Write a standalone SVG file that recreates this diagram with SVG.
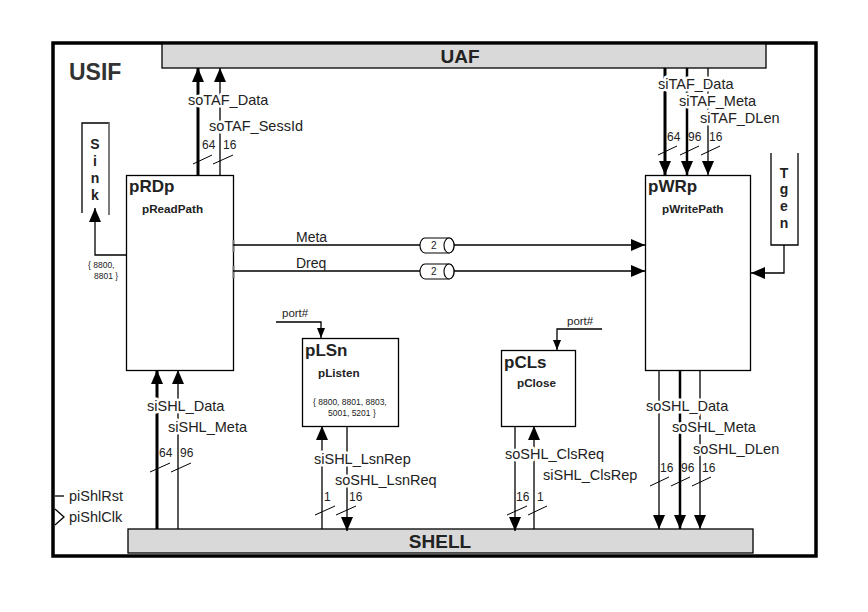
<svg xmlns="http://www.w3.org/2000/svg" width="868" height="612" viewBox="0 0 868 612">
<defs>
<marker id="ah" markerUnits="userSpaceOnUse" markerWidth="14" markerHeight="12" refX="14" refY="6" orient="auto"><path d="M0,0 L14,6 L0,12 Z" fill="#000"/></marker>
<marker id="ahs" markerUnits="userSpaceOnUse" markerWidth="10" markerHeight="8" refX="10" refY="4" orient="auto"><path d="M0,0 L10,4 L0,8 Z" fill="#000"/></marker>
<style>
text{font-family:"Liberation Sans",Arial,sans-serif;fill:#222}
.lbl{font-size:14.5px;stroke:#fff;stroke-width:5px;paint-order:stroke;stroke-linejoin:round}
.w{font-size:12px}
.t{font-weight:bold;font-size:17px}
.st{font-weight:bold;font-size:11.7px}
.sm{font-size:8.5px}
.box{fill:#fff;stroke:#000;stroke-width:1.3}
.bar{fill:#d9d9d9;stroke:#000;stroke-width:1.3}
.ln{fill:none;stroke:#000;stroke-width:1.3}
.thk{fill:none;stroke:#000;stroke-width:3}
.mid{fill:none;stroke:#000;stroke-width:2.5}
.sl{stroke:#000;stroke-width:1}
.vt{font-weight:bold;font-size:14px;text-anchor:middle}
</style>
</defs>
<rect x="0" y="0" width="868" height="612" fill="#fff"/>
<rect x="53" y="43" width="763" height="513" fill="#fff" stroke="#000" stroke-width="3.5"/>
<text x="69" y="80" style="font-weight:bold;font-size:23px;fill:#333">USIF</text>

<g id="UAF"><rect class="bar" x="162" y="44" width="604" height="24"/><text x="460" y="63" text-anchor="middle" style="font-weight:bold;font-size:19px">UAF</text></g>
<g id="SHELL"><rect class="bar" x="128" y="529" width="625" height="24"/><text x="440" y="548" text-anchor="middle" style="font-weight:bold;font-size:19px">SHELL</text></g>

<g id="Sink"><path class="ln" d="M82,213 V123 H109 V215"/><path d="M109,123 V215" stroke="#888" stroke-width="1.5"/>
<text class="vt" x="95" y="149">S</text><text class="vt" x="95" y="166">i</text><text class="vt" x="95" y="183">n</text><text class="vt" x="95" y="200">k</text></g>

<g id="Tgen"><path class="ln" d="M771,153 V245 H798 V153"/>
<text class="vt" x="784" y="178">T</text><text class="vt" x="784" y="194">g</text><text class="vt" x="784" y="211">e</text><text class="vt" x="784" y="228">n</text></g>

<g id="pRDp"><rect class="box" x="126.5" y="175.5" width="107" height="195"/><text class="t" x="129" y="192">pRDp</text><text class="st" x="142" y="213">pReadPath</text>
<path d="M233.5,240 V252 M233.5,266 V278" stroke="#777" stroke-width="2"/>
<text class="sm" x="88" y="268">{ 8800,</text><text class="sm" x="94" y="279">8801 }</text></g>

<g id="pWRp"><rect class="box" x="645.5" y="175.5" width="105" height="195"/><text class="t" x="648" y="192">pWRp</text><text class="st" x="662" y="213">pWritePath</text></g>

<g id="pLSn"><rect class="box" x="302.5" y="338.5" width="96" height="88"/><text class="t" x="305" y="356">pLSn</text><text class="st" x="318" y="377">pListen</text>
<text class="sm" x="313" y="405">{ 8800, 8801, 8803,</text><text class="sm" x="328" y="416">5001, 5201 }</text></g>

<g id="pCLs"><rect class="box" x="501.5" y="350.5" width="74" height="76"/><text class="t" x="504" y="368">pCLs</text><text class="st" x="517" y="387">pClose</text></g>

<g id="connectors">
<line class="thk" x1="198" y1="175" x2="198" y2="68" marker-end="url(#ah)"/>
<line class="ln" x1="220" y1="175" x2="220" y2="68" marker-end="url(#ah)"/>
<line class="sl" x1="193" y1="164" x2="212" y2="155"/><line class="sl" x1="213" y1="164" x2="233" y2="155"/>
<text class="lbl" x="188" y="105">soTAF_Data</text>
<text class="lbl" x="209" y="131">soTAF_SessId</text>
<text class="w" x="202" y="149">64</text><text class="w" x="223" y="149">16</text>

<line class="thk" x1="665" y1="68" x2="665" y2="175" marker-end="url(#ah)"/>
<line class="mid" x1="687" y1="68" x2="687" y2="175" marker-end="url(#ah)"/>
<line class="ln" x1="708" y1="68" x2="708" y2="175" marker-end="url(#ah)"/>
<line class="sl" x1="658" y1="155" x2="677" y2="146"/><line class="sl" x1="680" y1="155" x2="699" y2="146"/><line class="sl" x1="701" y1="155" x2="720" y2="146"/>
<text class="lbl" x="658" y="89">siTAF_Data</text>
<text class="lbl" x="679" y="106">siTAF_Meta</text>
<text class="lbl" x="700" y="123">siTAF_DLen</text>
<text class="w" x="667" y="141">64</text><text class="w" x="688" y="141">96</text><text class="w" x="709" y="141">16</text>

<path class="ln" d="M126,255 H95 V208" marker-end="url(#ah)"/>
<path class="ln" d="M784,245 V273 H751" marker-end="url(#ah)"/>

<line class="ln" x1="233" y1="245" x2="420" y2="245"/>
<line class="ln" x1="454" y1="245" x2="645" y2="245" marker-end="url(#ah)"/>
<line class="ln" x1="233" y1="271" x2="420" y2="271"/>
<line class="ln" x1="454" y1="271" x2="645" y2="271" marker-end="url(#ah)"/>
<path d="M425,238 H449 A5,7.5 0 0 1 449,253 H425 A5,7.5 0 0 1 425,238 Z" fill="#fff" stroke="#000" stroke-width="1.1"/>
<ellipse cx="449" cy="245.5" rx="5" ry="7.5" fill="#fff" stroke="#000" stroke-width="1.1"/>
<path d="M425,264 H449 A5,7.5 0 0 1 449,279 H425 A5,7.5 0 0 1 425,264 Z" fill="#fff" stroke="#000" stroke-width="1.1"/>
<ellipse cx="449" cy="271.5" rx="5" ry="7.5" fill="#fff" stroke="#000" stroke-width="1.1"/>
<text x="431" y="249" style="font-size:10px">2</text>
<text x="431" y="275" style="font-size:10px">2</text>
<text x="296" y="242" style="font-size:14px">Meta</text>
<text x="296" y="268" style="font-size:14px">Dreq</text>

<path class="ln" d="M276,322 H321 V338" marker-end="url(#ahs)"/>
<text x="282" y="317" style="font-size:11.5px">port#</text>
<path class="ln" d="M602,329 H557 V350" marker-end="url(#ahs)"/>
<text x="567" y="325" style="font-size:11.5px">port#</text>

<line class="thk" x1="157" y1="529" x2="157" y2="370" marker-end="url(#ah)"/>
<line class="ln" x1="178" y1="529" x2="178" y2="370" marker-end="url(#ah)"/>
<line class="sl" x1="150" y1="472" x2="170" y2="463"/><line class="sl" x1="171" y1="472" x2="191" y2="463"/>
<text class="lbl" x="147" y="411">siSHL_Data</text>
<text class="lbl" x="168" y="432">siSHL_Meta</text>
<text class="w" x="159" y="457">64</text><text class="w" x="180" y="457">96</text>

<line class="ln" x1="322" y1="529" x2="322" y2="426" marker-end="url(#ah)"/>
<line class="ln" x1="347" y1="426" x2="347" y2="531" marker-end="url(#ah)"/>
<line class="sl" x1="315" y1="515" x2="335" y2="506"/><line class="sl" x1="336" y1="515" x2="356" y2="506"/>
<text class="lbl" x="314" y="464">siSHL_LsnRep</text>
<text class="lbl" x="335" y="485">soSHL_LsnReq</text>
<text class="w" x="324" y="501">1</text><text class="w" x="349" y="501">16</text>

<line class="ln" x1="515" y1="426" x2="515" y2="531" marker-end="url(#ah)"/>
<line class="ln" x1="534" y1="529" x2="534" y2="426" marker-end="url(#ah)"/>
<line class="sl" x1="507" y1="515" x2="527" y2="506"/><line class="sl" x1="528" y1="515" x2="547" y2="506"/>
<text class="lbl" x="505" y="459">soSHL_ClsReq</text>
<text class="lbl" x="543" y="480">siSHL_ClsRep</text>
<text class="w" x="516" y="501">16</text><text class="w" x="537" y="501">1</text>

<line class="ln" x1="659" y1="370" x2="659" y2="529" marker-end="url(#ah)"/>
<line class="mid" x1="680" y1="370" x2="680" y2="529" marker-end="url(#ah)"/>
<line class="ln" x1="700" y1="370" x2="700" y2="529" marker-end="url(#ah)"/>
<line class="sl" x1="650" y1="486" x2="669" y2="477"/><line class="sl" x1="671" y1="486" x2="690" y2="477"/><line class="sl" x1="692" y1="486" x2="711" y2="477"/>
<text class="lbl" x="646" y="411">soSHL_Data</text>
<text class="lbl" x="672" y="432">soSHL_Meta</text>
<text class="lbl" x="693" y="454">soSHL_DLen</text>
<text class="w" x="660" y="472">16</text><text class="w" x="681" y="472">96</text><text class="w" x="702" y="472">16</text>

<line class="ln" x1="55" y1="496" x2="64" y2="496"/>
<polyline class="ln" points="55,509 64,517 55,525"/>
</g>
<text x="69" y="501" style="font-size:14.5px">piShlRst</text>
<text x="69" y="522" style="font-size:14.5px">piShlClk</text>
</svg>
